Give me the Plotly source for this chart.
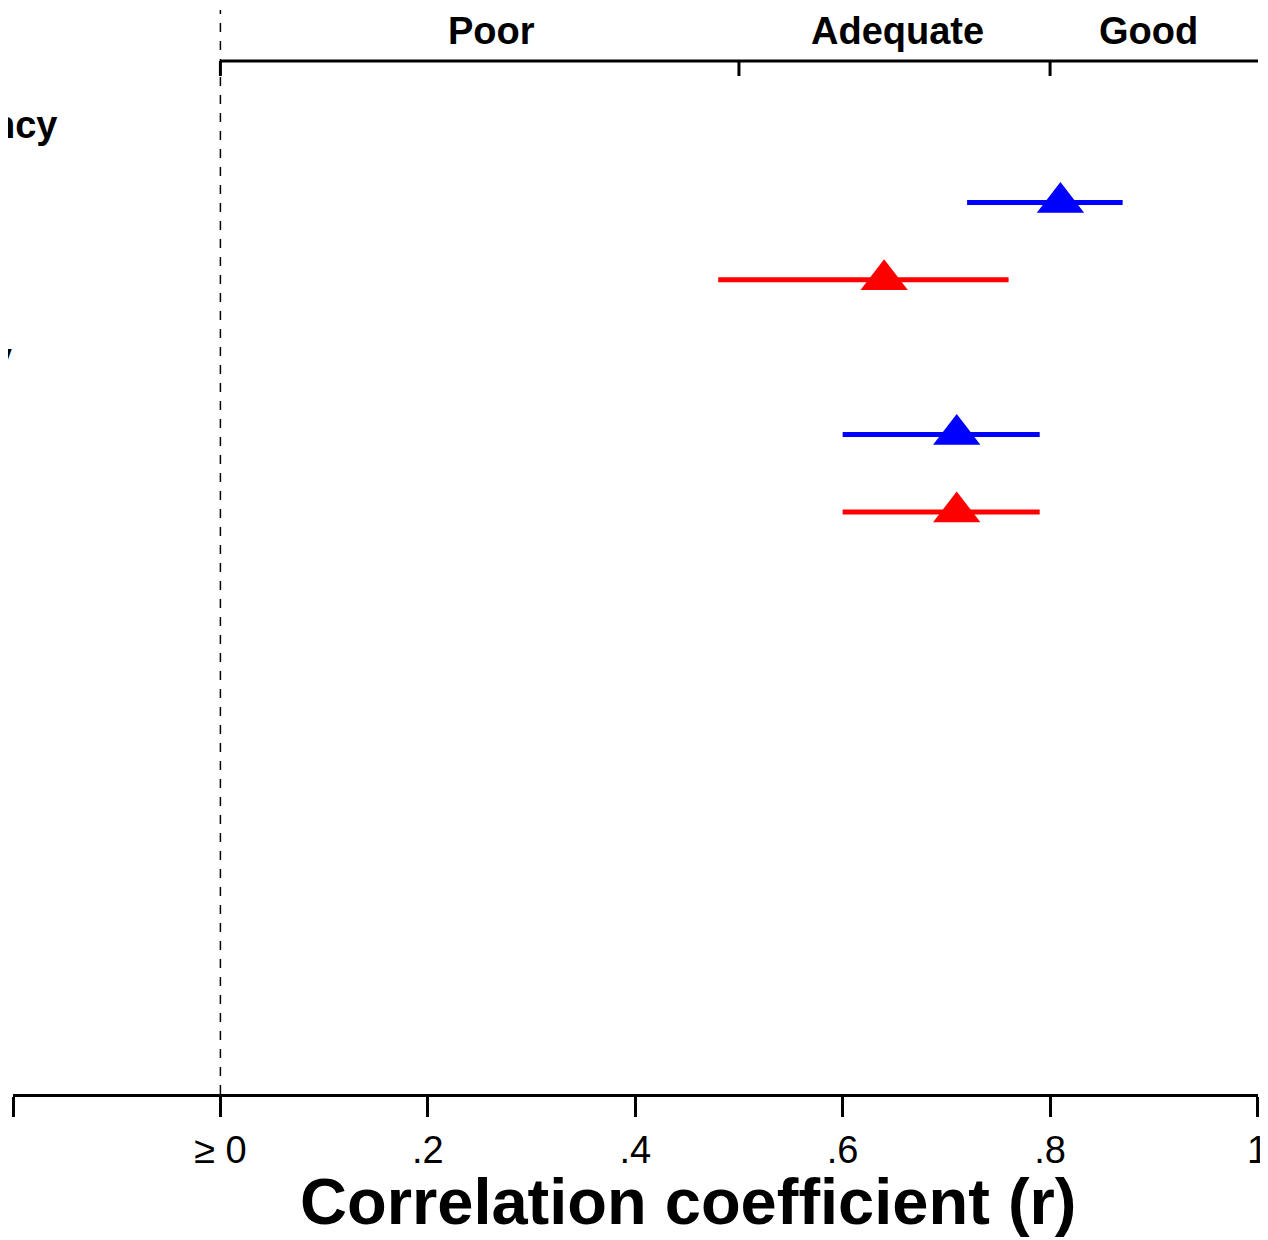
import plotly.graph_objects as go

# ---- data ----
headings = ["Internal consistency", "Test-retest reliability"]
heading_rows = [0, 3]

blue_rows = [1, 4]
blue_r = [0.81, 0.71]
blue_lo = [0.72, 0.60]
blue_hi = [0.87, 0.79]

red_rows = [2, 5]
red_r = [0.64, 0.71]
red_lo = [0.48, 0.60]
red_hi = [0.76, 0.79]

tick_vals = [-0.2, 0, 0.2, 0.4, 0.6, 0.8, 1.0]
tick_text = ["", "\u2265 0", ".2", ".4", ".6", ".8", "1"]

band_edges = [0, 0.5, 0.8, 1.0]
band_labels = ["Poor", "Adequate", "Good"]
band_label_x = [0.261, 0.653, 0.895]

FONT = "Liberation Sans, Arial, sans-serif"

fig = go.Figure()

def add_series(rows, r, lo, hi, color):
    fig.add_trace(go.Scatter(
        x=r, y=rows, mode="markers",
        marker=dict(symbol="triangle-up", size=41, color=color, line=dict(width=0)),
        error_x=dict(type="data", symmetric=False,
                     array=[h - v for h, v in zip(hi, r)],
                     arrayminus=[v - l for v, l in zip(r, lo)],
                     color=color, thickness=5, width=0),
        showlegend=False, cliponaxis=False,
    ))

add_series(blue_rows, blue_r, blue_lo, blue_hi, "#0000FF")
add_series(red_rows, red_r, red_lo, red_hi, "#FF0000")

# page offset (body margin) of 8px
OFF = 8
H, W = 1240, 1268
top_px, bot_px = 10, 1094          # screen px
left_px, right_px = 13, 1258       # screen px
ph = bot_px - top_px
pw = right_px - left_px
row_px = 77.4
first_row_px = 125
y0 = -(first_row_px - top_px) / row_px
y1 = y0 + ph / row_px

def py(px):
    return 1 - (px - top_px) / ph

def px_(sx):
    return (sx - left_px) / pw

shapes = []
shapes.append(dict(type="line", xref="x", yref="paper", x0=0, x1=0, y0=0, y1=1,
                   line=dict(color="black", width=1.5, dash="dash")))
shapes.append(dict(type="line", xref="x", yref="paper", x0=band_edges[0], x1=band_edges[-1] + 0.002,
                   y0=py(61), y1=py(61), line=dict(color="black", width=3)))
for e in band_edges[:-1]:
    shapes.append(dict(type="line", xref="x", yref="paper", x0=e, x1=e,
                       y0=py(61), y1=py(76), line=dict(color="black", width=3)))

annotations = []
for lab, xx in zip(band_labels, band_label_x):
    annotations.append(dict(x=xx, y=py(31), xref="x", yref="paper", text="<b>%s</b>" % lab,
                            showarrow=False, xanchor="center", yanchor="middle",
                            font=dict(family=FONT, size=38, color="black")))
heading_right_px = [59, 14]
for lab, row, xr in zip(headings, heading_rows, heading_right_px):
    annotations.append(dict(x=px_(xr), y=py(first_row_px + row * row_px), xref="paper", yref="paper",
                            text="<b>%s</b>" % lab,
                            showarrow=False, xanchor="right", yanchor="middle",
                            font=dict(family=FONT, size=38, color="black")))
annotations.append(dict(x=px_(688), y=py(1201), xref="paper", yref="paper",
                        text="<b>Correlation coefficient (r)</b>", showarrow=False,
                        xanchor="center", yanchor="middle",
                        font=dict(family=FONT, size=65, color="black")))

fig.update_layout(
    width=W, height=H,
    margin=dict(l=left_px - OFF, r=W - right_px + OFF, t=top_px - OFF, b=H - bot_px + OFF, pad=0),
    paper_bgcolor="white", plot_bgcolor="white",
    shapes=shapes, annotations=annotations,
    xaxis=dict(range=[-0.2, 1.0005], tickvals=tick_vals, ticktext=tick_text,
               ticks="outside", ticklen=20, tickwidth=3, tickcolor="black",
               showline=True, linewidth=3, linecolor="black",
               showgrid=False, zeroline=False,
               tickfont=dict(family=FONT, size=38, color="black"),
               ticklabelstandoff=0, ticklabeloverflow="allow"),
    yaxis=dict(range=[y1, y0], visible=False, showgrid=False, zeroline=False),
)

fig.write_html("out.html", config={"displayModeBar": False})
